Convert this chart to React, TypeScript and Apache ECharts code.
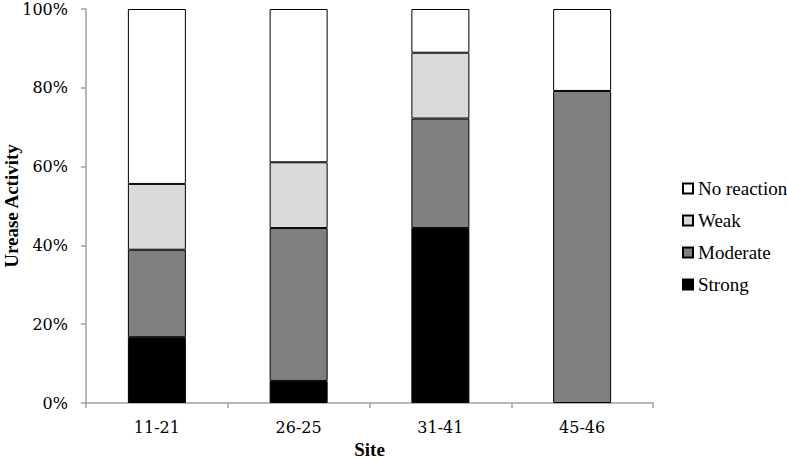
import React, { useEffect, useRef } from "react";
import * as echarts from "echarts";

const sites = ["11-21", "26-25", "31-41", "45-46"];
const strong = [16.7, 5.6, 44.4, 0];
const moderate = [22.2, 38.8, 27.8, 79.2];
const weak = [16.7, 16.7, 16.7, 0];
const noReaction = [44.4, 38.9, 11.1, 20.8];
const yTicks = [0, 20, 40, 60, 80, 100];

const TICK_FONT = "DejaVu Serif";
const TEXT_FONT = "Liberation Serif";

export default function App() {
  const ref = useRef<HTMLDivElement>(null);
  useEffect(() => {
    document.body.style.margin = "0";
    const chart = echarts.init(ref.current!, null, { renderer: "svg" });
    const mk = (name: string, vals: number[], color: string) => ({
      name,
      type: "bar",
      stack: "total",
      barWidth: 58,
      data: vals.map((v) => (v === 0 ? "-" : v)),
      itemStyle: { color, borderColor: "#000", borderWidth: 1 },
    });
    chart.setOption({
      animation: false,
      backgroundColor: "#fff",
      grid: { left: 86, right: 134, top: 9, bottom: 57, outerBoundsMode: "none", containLabel: false },
      legend: {
        orient: "vertical",
        left: 677,
        top: 174,
        itemWidth: 10,
        itemHeight: 10,
        itemGap: 13,
        icon: "rect",
        data: ["No reaction", "Weak", "Moderate", "Strong"],
        textStyle: { fontFamily: TEXT_FONT, fontSize: 19, color: "#000" },
      },
      xAxis: {
        type: "category",
        data: sites,
        name: "Site",
        nameLocation: "middle",
        nameGap: 37,
        nameMoveOverlap: false,
        nameTextStyle: { fontFamily: TEXT_FONT, fontSize: 19, lineHeight: 19, fontWeight: "bold", color: "#000" },
        axisLine: { lineStyle: { color: "#a0a0a0", width: 1.5 } },
        axisTick: { show: true, length: 5, lineStyle: { color: "#a0a0a0", width: 1.5 } },
        axisLabel: { fontFamily: TICK_FONT, fontSize: 16, color: "#000", margin: 16 },
      },
      yAxis: {
        type: "value",
        min: yTicks[0],
        max: yTicks[yTicks.length - 1],
        interval: 20,
        name: "Urease Activity",
        nameLocation: "middle",
        nameGap: 67,
        nameMoveOverlap: false,
        nameTextStyle: { fontFamily: TEXT_FONT, fontSize: 19, lineHeight: 16, fontWeight: "bold", color: "#000" },
        axisLine: { show: true, lineStyle: { color: "#a0a0a0", width: 1.5 } },
        axisTick: { show: true, length: 5, lineStyle: { color: "#a0a0a0", width: 1.5 } },
        splitLine: { show: false },
        axisLabel: {
          fontFamily: TICK_FONT,
          fontSize: 16,
          color: "#000",
          margin: 18,
          formatter: "{value}%",
        },
      },
      series: [
        mk("Strong", strong, "#000000"),
        mk("Moderate", moderate, "#808080"),
        mk("Weak", weak, "#d9d9d9"),
        mk("No reaction", noReaction, "#ffffff"),
      ],
    });
    return () => chart.dispose();
  }, []);
  return <div ref={ref} style={{ width: 787, height: 460 }} />;
}
